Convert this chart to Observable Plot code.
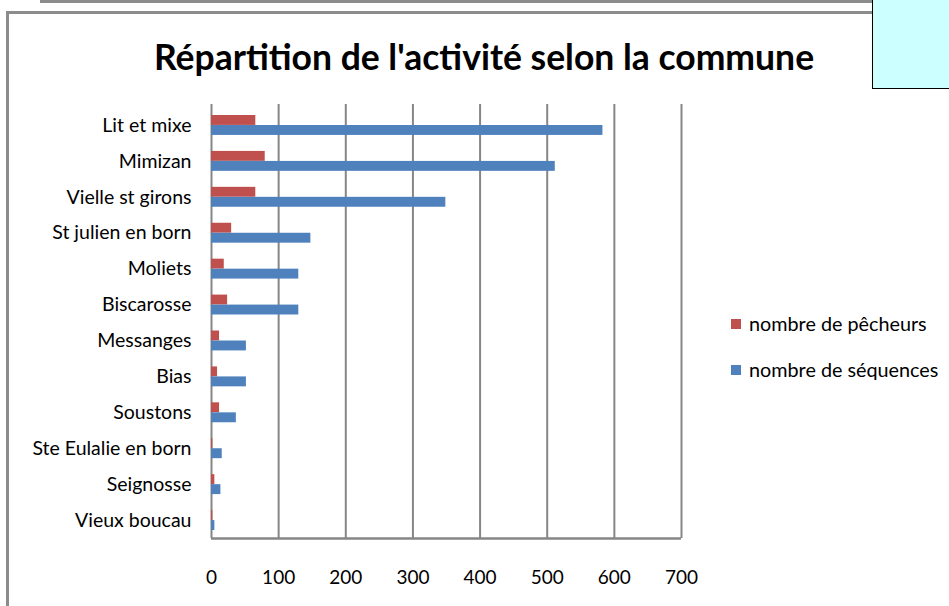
<!DOCTYPE html>
<html>
<head>
<meta charset="utf-8">
<script src="https://cdn.jsdelivr.net/npm/d3@7"></script>
<script src="https://cdn.jsdelivr.net/npm/@observablehq/plot@0.6"></script>
<style>
  html, body { margin: 0; padding: 0; background: #fff; }
  #wrap { position: relative; width: 949px; height: 606px; overflow: hidden; font-family: Lato, "Open Sans", sans-serif; }
  #wrap svg { position: absolute; left: 0; top: 0; }
  .deco { position: absolute; }
  .legend-item { position: absolute; font-size: 19.8px; line-height: 1; color: #000; white-space: nowrap; display: flex; align-items: center; }
  .legend-item span.sw { display: inline-block; width: 10px; height: 10px; margin-right: 8px; }
  #title { position: absolute; left: 0; width: 968px; top: 39px; line-height: 1; text-align: center; font-weight: bold; font-size: 35.5px; color: #000; white-space: nowrap; }
</style>
</head>
<body>
<div id="wrap"></div>
<script>
const communes = ["Lit et mixe","Mimizan","Vielle st girons","St julien en born","Moliets","Biscarosse","Messanges","Bias","Soustons","Ste Eulalie en born","Seignosse","Vieux boucau"];
const pecheurs = [66, 80, 66, 30, 19, 24, 12, 9, 12, 2, 5, 2];
const sequences = [583, 512, 349, 148, 130, 130, 52, 52, 37, 16, 14, 5];
const xTicks = [0, 100, 200, 300, 400, 500, 600, 700];
const seriesNames = ["nombre de pêcheurs", "nombre de séquences"];
const seriesColors = ["#c0504d", "#4f81bd"];

const rowsP = communes.map((c, i) => ({commune: c, value: pecheurs[i]}));
const rowsS = communes.map((c, i) => ({commune: c, value: sequences[i]}));

const chart = Plot.plot({
  width: 949,
  height: 606,
  marginLeft: 211,
  marginRight: 268,
  marginTop: 107,
  marginBottom: 68,
  style: {fontFamily: "Lato, 'Open Sans', sans-serif", fontSize: "19.5px", color: "#000", background: "transparent", overflow: "visible"},
  x: {domain: [0, 700], ticks: xTicks, label: null},
  y: {domain: communes, paddingInner: 0, paddingOuter: 0, round: false, label: null},
  marks: [
    Plot.ruleX(xTicks, {x: d => d, stroke: "#868686", strokeWidth: 2, strokeOpacity: 1, insetTop: -3}),
    Plot.ruleY([communes[communes.length - 1]], {y: d => d, x1: 0, x2: 700, dy: 18, stroke: "#868686", strokeWidth: 2.5}),
    Plot.barX(rowsP, {x: "value", y: "commune", fill: seriesColors[0], insetTop: 8, insetBottom: 18}),
    Plot.barX(rowsS, {x: "value", y: "commune", fill: seriesColors[1], insetTop: 18, insetBottom: 8}),
    Plot.axisX({ticks: xTicks, tickSize: 0, tickPadding: 32, tickFormat: d => String(d), fill: "#000", fontSize: 19, label: null}),
    Plot.axisY({tickSize: 0, tickPadding: 20, fill: "#000", fontSize: 19.5, label: null})
  ]
});

const wrap = document.getElementById("wrap");

function box(l, t, w, h, bg) {
  const d = document.createElement("div");
  d.className = "deco";
  d.style.left = l + "px"; d.style.top = t + "px"; d.style.width = w + "px"; d.style.height = h + "px"; d.style.background = bg;
  wrap.appendChild(d);
  return d;
}
// outer chart-area frame and neighbouring shapes
box(40, 0, 833, 3, "#8c8c8c");
box(6, 11, 867, 3, "#8c8c8c");
box(6, 11, 3, 595, "#8c8c8c");
const cyan = box(872, -2, 80, 90, "#ccffff");
cyan.style.borderLeft = "1px solid #000";
cyan.style.borderBottom = "1px solid #000";

wrap.appendChild(chart);

const title = document.createElement("div");
title.id = "title";
title.textContent = "Répartition de l'activité selon la commune";
wrap.appendChild(title);

seriesNames.forEach((name, i) => {
  const item = document.createElement("div");
  item.className = "legend-item";
  item.style.left = "731px";
  item.style.top = (314 + i * 46) + "px";
  const sw = document.createElement("span");
  sw.className = "sw";
  sw.style.background = seriesColors[i];
  item.appendChild(sw);
  item.appendChild(document.createTextNode(name));
  wrap.appendChild(item);
});
</script>
</body>
</html>
